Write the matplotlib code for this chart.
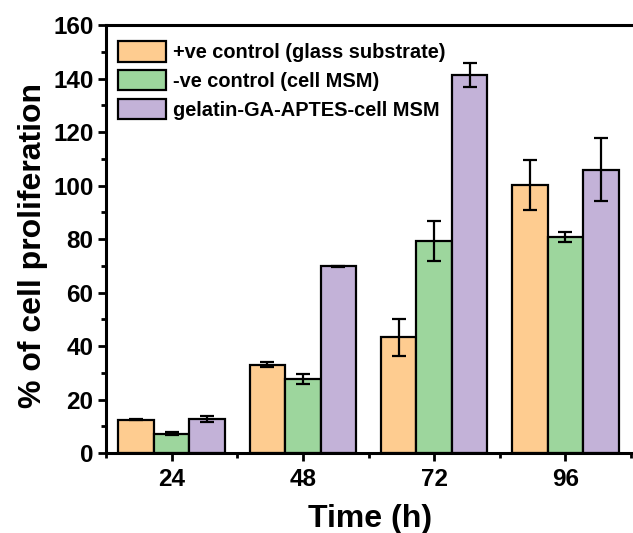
import matplotlib
matplotlib.use("Agg")
import matplotlib.pyplot as plt
import numpy as np
from matplotlib.ticker import MultipleLocator

plt.rcParams["font.family"] = ["Liberation Sans", "DejaVu Sans"]
plt.rcParams["font.weight"] = "bold"

times = ["24", "48", "72", "96"]
series = [
    "+ve control (glass substrate)",
    "-ve control (cell MSM)",
    "gelatin-GA-APTES-cell MSM",
]
pos_ctrl = [12.5, 33.1, 43.2, 100.1]
pos_err = [0.2, 0.8, 7.0, 9.4]
neg_ctrl = [7.2, 27.8, 79.3, 80.8]
neg_err = [0.5, 1.8, 7.4, 2.0]
gelatin = [12.8, 69.8, 141.4, 106.0]
gel_err = [1.1, 0.3, 4.4, 11.7]
colors = ["#FECC90", "#9DD69D", "#C3B2D8"]

fig = plt.figure(figsize=(6.33, 5.33), dpi=100)
ax = fig.add_axes([0.1675, 0.150, 0.8325, 0.803])

x = np.arange(len(times))
width = 0.27
for i, (vals, errs) in enumerate([(pos_ctrl, pos_err), (neg_ctrl, neg_err), (gelatin, gel_err)]):
    ax.bar(x + (i - 1) * width, vals, width, color=colors[i], edgecolor="black",
           linewidth=1.6, label=series[i], zorder=2)
    ax.errorbar(x + (i - 1) * width, vals, yerr=errs, fmt="none", ecolor="black",
                elinewidth=1.6, capsize=5, capthick=1.6, zorder=3)

ax.set_xlim(-0.5, 3.515)
ax.set_ylim(0, 160)
ax.set_xticks(x)
ax.set_xticklabels(times)
ax.xaxis.set_minor_locator(MultipleLocator(1, offset=0.5))
ax.yaxis.set_major_locator(MultipleLocator(20))
ax.yaxis.set_minor_locator(MultipleLocator(10))
ax.tick_params(axis="both", which="major", labelsize=17.5, width=2, length=6, pad=3)
ax.tick_params(axis="both", which="minor", width=2, length=3.5)
ax.tick_params(axis="x", which="major", pad=5)
for lab in ax.get_xticklabels() + ax.get_yticklabels():
    lab.set_fontweight("bold")

for side in ["left", "bottom", "top"]:
    ax.spines[side].set_linewidth(2.2)
ax.spines["right"].set_visible(False)

ax.set_xlabel("Time (h)", fontsize=23, fontweight="bold")
ax.set_ylabel("% of cell proliferation", fontsize=23, fontweight="bold")
ax.xaxis.set_label_coords(0.501, -0.118)
ax.yaxis.set_label_coords(-0.110, 0.486)

leg = ax.legend(loc="upper left", frameon=False, fontsize=14.4, handlelength=2.4,
                handleheight=1.2, handletextpad=0.35, labelspacing=0.38,
                borderaxespad=0.2, bbox_to_anchor=(0.0, 0.99))
for t in leg.get_texts():
    t.set_fontweight("bold")

fig.savefig("out.png", dpi=100)
